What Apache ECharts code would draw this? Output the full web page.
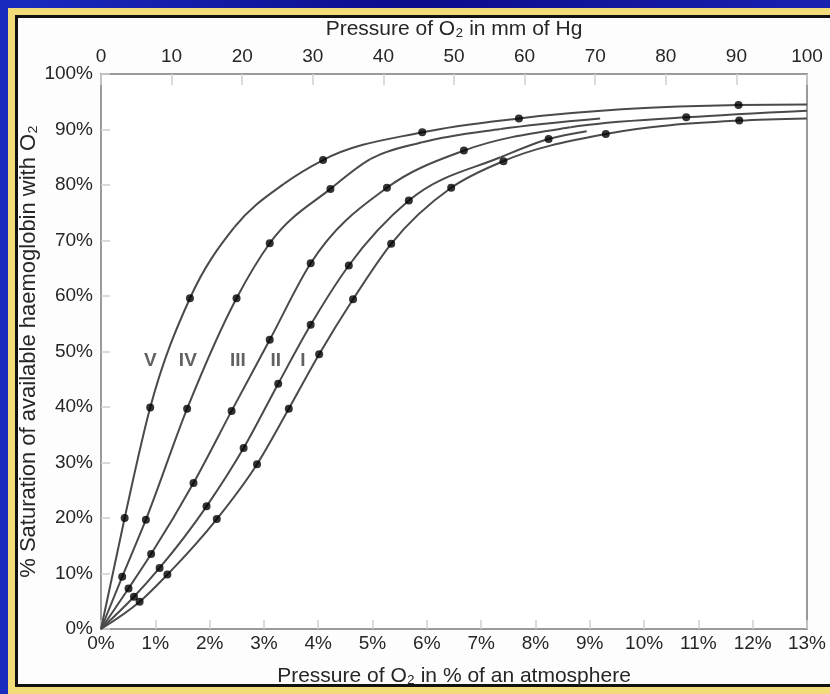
<!DOCTYPE html>
<html>
<head>
<meta charset="utf-8">
<script src="https://cdn.jsdelivr.net/npm/echarts@6/dist/echarts.min.js"></script>
<style>
html,body{margin:0;padding:0;background:#10109a;}
#chart{width:830px;height:694px;}
</style>
</head>
<body>
<div id="chart"></div>
<script>
// Axis ticks
const bottomTicks = [0,1,2,3,4,5,6,7,8,9,10,11,12,13];   // % of an atmosphere
const topTicks = [0,10,20,30,40,50,60,70,80,90,100];       // mm Hg
const yTicks = [0,10,20,30,40,50,60,70,80,90,100];         // % saturation

// Curve names
const curveNames = ['I','II','III','IV','V'];

// Curve traces [mm Hg, % saturation]
const lineV   = [[0,0],[3.35,20.0],[6.97,39.9],[12.6,59.6],[18.9,72.4],[25.9,80.2],[31.45,84.5],[45.5,89.5],[59.2,92.0],[90.3,94.4],[100,94.5]];
const lineIV  = [[0,0],[3.0,9.4],[6.36,19.7],[12.2,39.7],[19.2,59.6],[23.9,69.5],[32.5,79.3],[38.2,84.7],[45.5,87.7],[56.6,90.1],[70.7,92.0]];
const lineIII = [[0,0],[3.9,7.3],[7.1,13.5],[13.1,26.3],[18.5,39.3],[23.9,52.1],[29.7,65.9],[40.5,79.5],[51.4,86.2],[66.5,90.4],[82.9,92.2],[100,93.4]];
const lineII  = [[0,0],[4.67,5.8],[8.3,11.0],[14.95,22.1],[20.2,32.6],[25.1,44.2],[29.7,54.8],[35.1,65.5],[43.6,77.2],[56.6,85.0],[63.4,88.3],[68.8,89.7]];
const lineI   = [[0,0],[5.47,4.9],[9.4,9.8],[16.4,19.8],[22.1,29.7],[26.6,39.7],[30.9,49.5],[35.7,59.4],[41.1,69.4],[49.6,79.5],[57.0,84.3],[71.5,89.2],[90.4,91.6],[100,92.0]];

// Measured points (dots)
const dotsV   = [[3.35,20.0],[6.97,39.9],[12.6,59.6],[31.45,84.5],[45.5,89.5],[59.2,92.0],[90.3,94.4]];
const dotsIV  = [[3.0,9.4],[6.36,19.7],[12.2,39.7],[19.2,59.6],[23.9,69.5],[32.5,79.3]];
const dotsIII = [[3.9,7.3],[7.1,13.5],[13.1,26.3],[18.5,39.3],[23.9,52.1],[29.7,65.9],[40.5,79.5],[51.4,86.2],[82.9,92.2]];
const dotsII  = [[4.67,5.8],[8.3,11.0],[14.95,22.1],[20.2,32.6],[25.1,44.2],[29.7,54.8],[35.1,65.5],[43.6,77.2],[63.4,88.3]];
const dotsI   = [[5.47,4.9],[9.4,9.8],[16.4,19.8],[22.1,29.7],[26.6,39.7],[30.9,49.5],[35.7,59.4],[41.1,69.4],[49.6,79.5],[57.0,84.3],[71.5,89.2],[90.4,91.6]];

// Curve label anchors [mm Hg, % saturation]
const labelPos = [[28.6,48.3],[24.75,48.3],[19.4,48.3],[12.3,48.3],[7.0,48.3]];

const FONT = 'Liberation Sans, Arial, sans-serif';
const TXT = '#262626';
const lines = [lineI, lineII, lineIII, lineIV, lineV];
const dots = [dotsI, dotsII, dotsIII, dotsIV, dotsV];

// Monotone cubic (in screen space) through the library-projected points
function monoSegments(pts) {
  const n = pts.length;
  const h = [], s = [];
  for (let i = 0; i < n - 1; i++) {
    h.push(pts[i+1][0] - pts[i][0]);
    s.push((pts[i+1][1] - pts[i][1]) / h[i]);
  }
  const m = new Array(n);
  for (let i = 1; i < n - 1; i++) {
    const s0 = s[i-1], s1 = s[i], h0 = h[i-1], h1 = h[i];
    const p = (s0 * h1 + s1 * h0) / (h0 + h1);
    m[i] = (Math.sign(s0) + Math.sign(s1)) * Math.min(Math.abs(s0), Math.abs(s1), 0.5 * Math.abs(p)) || 0;
  }
  m[0] = n > 2 ? (3 * s[0] - m[1]) / 2 : s[0];
  m[n-1] = n > 2 ? (3 * s[n-2] - m[n-2]) / 2 : s[n-2];
  const segs = [];
  for (let i = 0; i < n - 1; i++) {
    const dx = h[i] / 3;
    segs.push({
      x1: pts[i][0], y1: pts[i][1],
      cpx1: pts[i][0] + dx, cpy1: pts[i][1] + m[i] * dx,
      cpx2: pts[i+1][0] - dx, cpy2: pts[i+1][1] - m[i+1] * dx,
      x2: pts[i+1][0], y2: pts[i+1][1]
    });
  }
  return segs;
}

const series = [];
lines.forEach((d, i) => {
  series.push({
    name: 'Curve ' + curveNames[i], type: 'custom', xAxisIndex: 1, yAxisIndex: 0,
    data: d, encode: {x: 0, y: 1}, silent: true, z: 3, clip: false,
    renderItem: function (params, api) {
      if (params.dataIndex !== 0) return null;
      const pts = d.map(p => api.coord(p));
      const segs = monoSegments(pts);
      return {
        type: 'group',
        children: segs.map(sg => ({
          type: 'bezierCurve', shape: sg,
          style: {stroke: '#4a4a4a', lineWidth: 2, fill: null}
        }))
      };
    }
  });
  series.push({
    name: 'Dots ' + curveNames[i], type: 'scatter', xAxisIndex: 1, yAxisIndex: 0,
    data: dots[i], symbol: 'circle', symbolSize: 8,
    itemStyle: {color: '#000'}, silent: true, z: 4
  });
});
series.push({
  name: 'Labels', type: 'scatter', xAxisIndex: 1, yAxisIndex: 0,
  data: labelPos.map((p, i) => ({value: p, name: curveNames[i]})),
  symbolSize: 0,
  label: {show: true, position: 'inside', formatter: '{b}', fontFamily: FONT, fontSize: 19, fontWeight: 'bold', color: '#3a3a3a'},
  silent: true, z: 5
});

const chart = echarts.init(document.getElementById('chart'), null, {renderer: 'canvas'});
chart.setOption({
  backgroundColor: '#10109a',
  animation: false,
  graphic: [
    {type: 'rect', shape: {x: 0, y: 0, width: 830, height: 694},
     style: {fill: new echarts.graphic.LinearGradient(0, 0, 1, 0, [{offset: 0, color: '#1a2cc0'}, {offset: 0.5, color: '#0c0c8a'}, {offset: 1, color: '#1a22b0'}])}, z: -10},
    {type: 'rect', shape: {x: 8, y: 8, width: 830, height: 700}, style: {fill: '#f2dc7a'}, z: -9},
    {type: 'rect', shape: {x: 15, y: 15, width: 830, height: 672}, style: {fill: '#111'}, z: -8},
    {type: 'rect', shape: {x: 18, y: 18, width: 830, height: 666}, style: {fill: '#fdfdfd'}, z: -7}
  ],
  grid: {left: 101, right: 23, top: 74, bottom: 65, show: true, borderColor: '#9a9a9a', borderWidth: 2, backgroundColor: '#fff'},
  xAxis: [
    {type: 'value', position: 'bottom', min: 0, max: 13, interval: 1,
     axisLine: {show: false},
     axisTick: {show: true, inside: true, length: 9, lineStyle: {color: '#cfcfcf', width: 1.5}},
     splitLine: {show: false},
     axisLabel: {formatter: '{value}%', fontFamily: FONT, fontSize: 19, color: TXT, margin: 5},
     name: 'Pressure of O₂ in % of an atmosphere', nameLocation: 'middle', nameGap: 37, nameMoveOverlap: false,
     nameTextStyle: {fontFamily: FONT, fontSize: 21, color: TXT}},
    {type: 'value', position: 'top', min: 0, max: 100, interval: 10,
     axisLine: {show: false},
     axisTick: {show: true, inside: true, length: 11, lineStyle: {color: '#cfcfcf', width: 1.5}},
     splitLine: {show: false},
     axisLabel: {fontFamily: FONT, fontSize: 19, color: TXT, margin: 8},
     name: 'Pressure of O₂ in mm of Hg', nameLocation: 'middle', nameGap: 34, nameMoveOverlap: false,
     nameTextStyle: {fontFamily: FONT, fontSize: 21, color: TXT}}
  ],
  yAxis: [
    {type: 'value', min: 0, max: 100, interval: 10,
     axisLine: {show: false},
     axisTick: {show: true, inside: true, length: 9, lineStyle: {color: '#cfcfcf', width: 1.5}},
     splitLine: {show: false},
     axisLabel: {formatter: '{value}%', fontFamily: FONT, fontSize: 19, color: TXT, margin: 8},
     name: '% Saturation of available haemoglobin with O₂', nameLocation: 'middle', nameGap: 61, nameMoveOverlap: false,
     nameTextStyle: {fontFamily: FONT, fontSize: 22, color: TXT}}
  ],
  series: series
});
</script>
</body>
</html>
